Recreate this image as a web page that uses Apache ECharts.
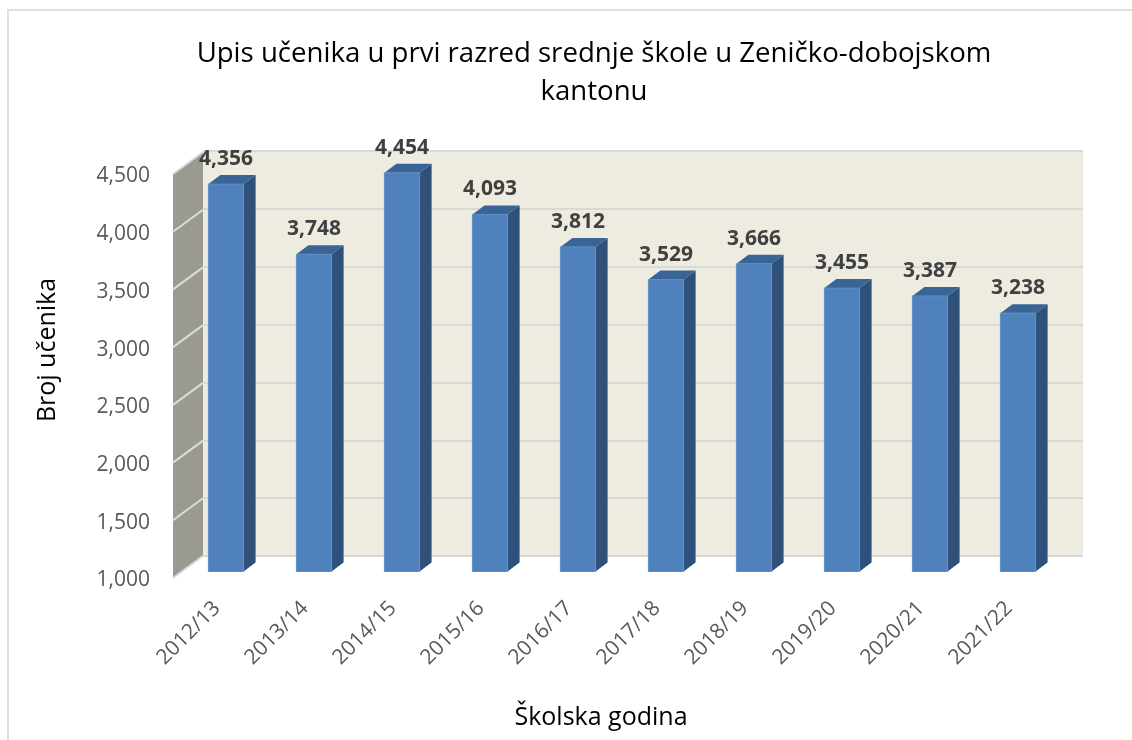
<!DOCTYPE html>
<html>
<head>
<meta charset="utf-8">
<title>Upis učenika</title>
<style>
html, body { margin: 0; padding: 0; background: #fff; }
#chart { width: 1132px; height: 740px; }
</style>
<script src="https://cdn.jsdelivr.net/npm/echarts@6/dist/echarts.min.js"></script>
</head>
<body>
<div id="chart"></div>
<script>
var categories = ['2012/13', '2013/14', '2014/15', '2015/16', '2016/17', '2017/18', '2018/19', '2019/20', '2020/21', '2021/22'];
var students = [4356, 3748, 4454, 4093, 3812, 3529, 3666, 3455, 3387, 3238];
var yTicks = [1000, 1500, 2000, 2500, 3000, 3500, 4000, 4500];

var fontName = '"Open Sans"';
var wallDx = 30, wallDy = -22;   // pomak straznjeg zida
var barDx = 9, barDy = -6.5;     // pomak prednje strane stupca
var depthDx = 12, depthDy = -9;  // dubina stupca

var myChart = echarts.init(document.getElementById('chart'));

function barItem(params, api) {
    var v = api.value(1);
    var top = api.coord([api.value(0), v]);
    var base = api.coord([api.value(0), 1000]);
    var w = api.size([1, 0])[0] * 0.4;
    var x0 = top[0] + barDx - w / 2, x1 = x0 + w;
    var y0 = top[1] + barDy, y1 = base[1] + barDy;
    return {
        type: 'group',
        children: [{
            type: 'polygon',
            shape: { points: [[x1, y0], [x1 + depthDx, y0 + depthDy], [x1 + depthDx, y1 + depthDy], [x1, y1]] },
            style: { fill: '#2f5078' }
        }, {
            type: 'polygon',
            shape: { points: [[x0, y0], [x0 + depthDx, y0 + depthDy], [x1 + depthDx, y0 + depthDy], [x1, y0]] },
            style: { fill: '#3a6496' }
        }, {
            type: 'rect',
            shape: { x: x0, y: y0, width: w, height: y1 - y0 },
            style: { fill: '#4f81bd', stroke: '#5f8cc6', lineWidth: 1 }
        }, {
            type: 'text',
            style: {
                x: top[0] + barDx, y: y0 - 25,
                text: echarts.format.addCommas(v),
                align: 'center', verticalAlign: 'middle',
                fill: '#404040',
                font: 'bold 21px ' + fontName
            }
        }]
    };
}

// bocni zid, jedan segment po podjeli osi
function wallItem(params, api) {
    var v = api.value(0);
    var next = yTicks[params.dataIndex + 1];
    var p = api.coord([0, v]);
    var x0 = p[0] - api.size([1, 0])[0] / 2;
    var x1 = x0 + wallDx;
    var children = [{
        type: 'line',
        shape: { x1: x0, y1: p[1], x2: x1, y2: p[1] + wallDy },
        style: { stroke: '#dcdcd8', lineWidth: 2 },
        z2: 2
    }];
    if (next !== undefined) {
        var q = api.coord([0, next]);
        children.unshift({
            type: 'polygon',
            shape: { points: [[x0, p[1]], [x1, p[1] + wallDy], [x1, q[1] + wallDy], [x0, q[1]]] },
            style: { fill: '#9a9a90' }
        });
    }
    return { type: 'group', children: children };
}

var option = {
    backgroundColor: '#fff',
    animation: false,
    title: {
        text: 'Upis učenika u prvi razred srednje škole u Zeničko-dobojskom\nkantonu',
        left: 589,
        top: 30,
        textAlign: 'center',
        textStyle: { fontFamily: fontName, fontSize: 27.6, fontWeight: 'normal', color: '#000', lineHeight: 38 }
    },
    grid: [
        // prednja ravnina: osi i stupci
        { left: 173, top: 174, width: 880, height: 404, outerBoundsMode: 'none' },
        // straznji zid
        { left: 203, top: 151, width: 880, height: 405, outerBoundsMode: 'none', show: true, backgroundColor: '#eeece1', borderWidth: 0 }
    ],
    xAxis: [{
        type: 'category',
        gridIndex: 0,
        data: categories,
        axisLine: { show: false },
        axisTick: { show: false },
        axisLabel: { rotate: 45, fontFamily: fontName, fontSize: 21, color: '#595959', margin: 27, interval: 0 },
        name: 'Školska godina',
        nameLocation: 'middle',
        nameGap: 127,
        nameTextStyle: { fontFamily: fontName, fontSize: 25, color: '#000', padding: [0, 24, 0, 0] }
    }, {
        type: 'category',
        gridIndex: 1,
        data: categories,
        show: false
    }],
    yAxis: [{
        type: 'value',
        gridIndex: 0,
        min: 1000,
        max: 4500,
        interval: 500,
        axisLine: { show: false },
        axisTick: { show: false },
        splitLine: { show: false },
        axisLabel: { fontFamily: fontName, fontSize: 21, color: '#595959', margin: 23, verticalAlign: 'top', lineHeight: 5 },
        name: 'Broj učenika',
        nameLocation: 'middle',
        nameGap: 113,
        nameTextStyle: { fontFamily: fontName, fontSize: 25, color: '#000', padding: [0, 0, 0, 52] }
    }, {
        type: 'value',
        gridIndex: 1,
        min: 1000,
        max: 4500,
        interval: 500,
        axisLine: { show: false },
        axisTick: { show: false },
        axisLabel: { show: false },
        splitLine: { show: true, lineStyle: { color: '#d9d9d9', width: 2 } }
    }],
    series: [{
        name: 'zid',
        type: 'custom',
        xAxisIndex: 0,
        yAxisIndex: 0,
        coordinateSystem: 'cartesian2d',
        renderItem: wallItem,
        encode: { y: 0 },
        data: yTicks.map(function (t) { return [t]; }),
        clip: false,
        z: 1
    }, {
        name: 'Broj učenika',
        type: 'custom',
        xAxisIndex: 0,
        yAxisIndex: 0,
        renderItem: barItem,
        encode: { x: 0, y: 1 },
        data: students.map(function (v, i) { return [i, v]; }),
        clip: false,
        z: 3
    }],
    graphic: [{
        type: 'polyline',
        shape: { points: [[8, 740], [8, 10], [1132, 10]] },
        style: { stroke: '#dedede', fill: null, lineWidth: 2 },
        silent: true
    }]
};
myChart.setOption(option);
</script>
</body>
</html>
